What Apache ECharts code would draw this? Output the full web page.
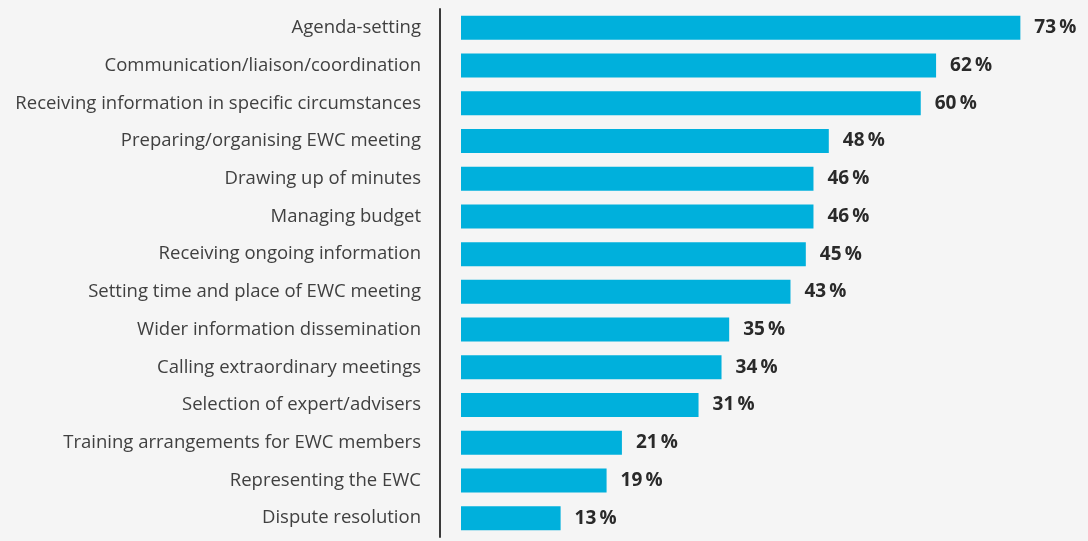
<!DOCTYPE html>
<html>
<head>
<meta charset="utf-8">
<script src="https://cdn.jsdelivr.net/npm/echarts@6/dist/echarts.min.js"></script>
<style>
  html, body { margin: 0; padding: 0; background: #f5f5f5; }
  #chart { width: 1088px; height: 541px; }
</style>
</head>
<body>
<div id="chart"></div>
<script>
const categories = [
  'Agenda-setting',
  'Communication/liaison/coordination',
  'Receiving information in specific circumstances',
  'Preparing/organising EWC meeting',
  'Drawing up of minutes',
  'Managing budget',
  'Receiving ongoing information',
  'Setting time and place of EWC meeting',
  'Wider information dissemination',
  'Calling extraordinary meetings',
  'Selection of expert/advisers',
  'Training arrangements for EWC members',
  'Representing the EWC',
  'Dispute resolution'
];
const shares = [73, 62, 60, 48, 46, 46, 45, 43, 35, 34, 31, 21, 19, 13];

const chart = echarts.init(document.getElementById('chart'));
chart.setOption({
  backgroundColor: '#f5f5f5',
  animation: false,
  grid: { left: 461, right: 14, top: 9, bottom: 4 },
  xAxis: {
    type: 'value',
    min: 0,
    max: 80,
    show: false
  },
  yAxis: {
    type: 'category',
    data: categories,
    inverse: true,
    offset: 21,
    axisLine: { show: true, onZero: false, lineStyle: { color: '#3a3a3a', width: 2 } },
    axisTick: { show: false },
    axisLabel: {
      margin: 19,
      color: '#404040',
      fontSize: 18.5,
      fontWeight: 500,
      fontFamily: 'Open Sans'
    }
  },
  series: [{
    type: 'bar',
    data: shares,
    barWidth: 24,
    itemStyle: { color: '#00b0dc' },
    label: {
      show: true,
      position: 'right',
      distance: 14,
      formatter: '{c}\u2009%',
      color: '#2a2a2a',
      fontSize: 19,
      fontWeight: 'bold',
      fontFamily: 'Open Sans'
    }
  }]
});
</script>
</body>
</html>
